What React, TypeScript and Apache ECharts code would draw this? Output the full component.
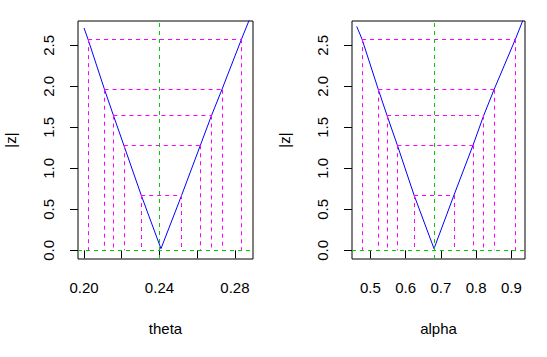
import React, { useEffect, useRef } from "react";
import * as echarts from "echarts";

// ---- data ----
const zLevels = [2.576, 1.96, 1.645, 1.282, 0.674];

const thetaCurveX = [0.2, 0.2021, 0.2109, 0.2156, 0.2211, 0.2303, 0.2408, 0.2518, 0.2617, 0.2676, 0.2731, 0.2835, 0.2876];
const thetaCurveZ = [2.713, 2.576, 1.96, 1.645, 1.282, 0.674, 0.02, 0.674, 1.282, 1.645, 1.96, 2.576, 2.81];
const thetaLower = [0.2021, 0.2109, 0.2156, 0.2211, 0.2303];
const thetaUpper = [0.2835, 0.2731, 0.2676, 0.2617, 0.2518];
const thetaHat = 0.2408;

const alphaCurveX = [0.4611, 0.4763, 0.5226, 0.5472, 0.5765, 0.6238, 0.6805, 0.7372, 0.7911, 0.8214, 0.8507, 0.9113, 0.933];
const alphaCurveZ = [2.732, 2.576, 1.96, 1.645, 1.282, 0.674, 0.02, 0.674, 1.282, 1.645, 1.96, 2.576, 2.81];
const alphaLower = [0.4763, 0.5226, 0.5472, 0.5765, 0.6238];
const alphaUpper = [0.9113, 0.8507, 0.8214, 0.7911, 0.7372];
const alphaHat = 0.6805;

const thetaTicks = [0.2, 0.22, 0.24, 0.26, 0.28];
const thetaTickLabels = [0.2, 0.24, 0.28];
const alphaTicks = [0.5, 0.6, 0.7, 0.8, 0.9];
const zTicks = [0, 0.5, 1, 1.5, 2, 2.5];

const FONT = "'Liberation Sans', Arial, sans-serif";
const MAGENTA = "#FF00FF";
const GREEN = "#00CD00";
const BLUE = "#0000FF";

function panelSeries(idx: number, cx: number[], cz: number[], lo: number[], hi: number[], hat: number) {
  const curve = cx.map((x, i) => [x, cz[i]]);
  const segs: any[] = [];
  zLevels.forEach((lv, i) => {
    segs.push([{ coord: [lo[i], lv] }, { coord: [hi[i], lv] }]);
    segs.push([{ coord: [lo[i], lv] }, { coord: [lo[i], 0] }]);
    segs.push([{ coord: [hi[i], lv] }, { coord: [hi[i], 0] }]);
  });
  return [
    {
      type: "line",
      xAxisIndex: idx,
      yAxisIndex: idx,
      data: curve,
      showSymbol: false,
      symbol: "none",
      clip: true,
      lineStyle: { color: BLUE, width: 1 },
      z: 3,
      markLine: {
        silent: true,
        symbol: "none",
        label: { show: false },
        lineStyle: { color: MAGENTA, type: [4, 4], width: 1 },
        data: segs,
      },
    },
    {
      type: "line",
      xAxisIndex: idx,
      yAxisIndex: idx,
      data: [],
      z: 4,
      markLine: {
        silent: true,
        symbol: "none",
        label: { show: false },
        lineStyle: { color: GREEN, type: [4, 4], width: 1 },
        data: [{ yAxis: 0 }, { xAxis: hat }],
      },
    },
  ];
}

function xAxisCfg(idx: number, min: number, max: number, ticks: number[], labels: number[], dec: number, name: string) {
  return {
    type: "value",
    gridIndex: idx,
    min,
    max,
    name,
    nameLocation: "middle",
    nameGap: 62,
    nameTextStyle: { fontFamily: FONT, fontSize: 15, color: "#000" },
    splitLine: { show: false },
    axisLine: { show: false },
    axisTick: { show: true, length: 8, customValues: ticks, lineStyle: { color: "#000" } },
    axisLabel: {
      show: true,
      customValues: labels,
      margin: 21,
      fontFamily: FONT,
      fontSize: 15,
      color: "#000",
      formatter: (v: number) => v.toFixed(dec),
    },
  };
}

function yAxisCfg(idx: number) {
  return {
    type: "value",
    gridIndex: idx,
    min: -0.106,
    max: 2.798,
    name: "|z|",
    nameLocation: "middle",
    nameGap: 60,
    nameRotate: 90,
    nameTextStyle: { fontFamily: FONT, fontSize: 15, color: "#000" },
    splitLine: { show: false },
    axisLine: { show: false },
    axisTick: { show: true, length: 8, customValues: zTicks, lineStyle: { color: "#000" } },
    axisLabel: {
      show: true,
      customValues: zTicks,
      rotate: 90,
      margin: 22,
      fontFamily: FONT,
      fontSize: 15,
      color: "#000",
      formatter: (v: number) => v.toFixed(1),
    },
  };
}

export default function App() {
  const ref = useRef<HTMLDivElement>(null);
  useEffect(() => {
    if (!ref.current) return;
    const chart = echarts.init(ref.current, null, { renderer: "svg" });
    chart.setOption({
      animation: false,
      backgroundColor: "#fff",
      grid: [
        { left: 78, top: 21, width: 175, height: 238, show: true, borderColor: "#000", borderWidth: 1, backgroundColor: "transparent" },
        { left: 352, top: 21, width: 173, height: 238, show: true, borderColor: "#000", borderWidth: 1, backgroundColor: "transparent" },
      ],
      xAxis: [
        xAxisCfg(0, 0.1968, 0.2896, thetaTicks, thetaTickLabels, 2, "theta"),
        xAxisCfg(1, 0.4478, 0.9386, alphaTicks, alphaTicks, 1, "alpha"),
      ],
      yAxis: [yAxisCfg(0), yAxisCfg(1)],
      series: [
        ...panelSeries(0, thetaCurveX, thetaCurveZ, thetaLower, thetaUpper, thetaHat),
        ...panelSeries(1, alphaCurveX, alphaCurveZ, alphaLower, alphaUpper, alphaHat),
      ],
    });
    return () => chart.dispose();
  }, []);
  return (
    <div
      ref={ref}
      style={{ position: "absolute", left: 0, top: 0, width: 547, height: 357 }}
    />
  );
}
